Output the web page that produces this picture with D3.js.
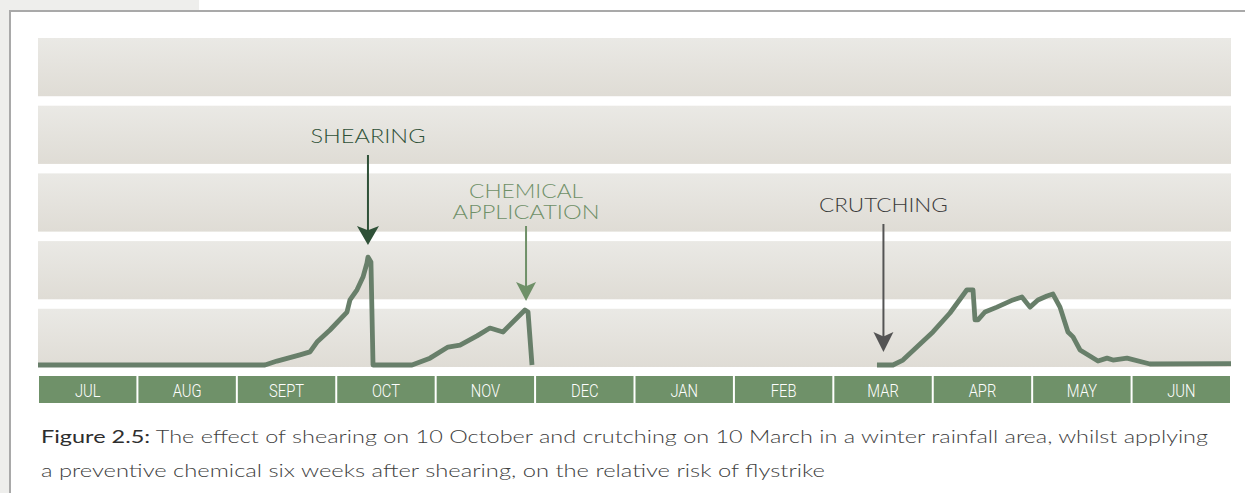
<!DOCTYPE html>
<html>
<head>
<meta charset="utf-8">
<script src="https://cdn.jsdelivr.net/npm/d3@7"></script>
<style>
  html, body { margin: 0; padding: 0; background: #ffffff; }
  svg { display: block; }
</style>
</head>
<body>
<svg id="chart" width="1245" height="493"></svg>
<script>
// ---- data ----
const months = ["JUL","AUG","SEPT","OCT","NOV","DEC","JAN","FEB","MAR","APR","MAY","JUN"];
// x = months since 1 July, y = relative flystrike risk
const riskShearingX = [0,2.283,2.404,2.515,2.635,2.736,2.806,2.937,3.108,3.138,3.209,3.269,3.309,3.319,3.349,3.370,3.762,3.943,4.124,4.245,4.416,4.546,4.677,4.898,4.929,4.969];
const riskShearingY = [0,0,1.2,2.1,3.1,4.0,7.0,10.7,16.2,19.9,23.0,26.9,31.2,33.0,31.5,0,0,2.1,5.5,6.1,8.9,11.3,10.1,16.8,16.2,0];
const riskCrutchX = [8.439,8.600,8.700,9.002,9.173,9.344,9.405,9.425,9.455,9.525,9.646,9.807,9.897,9.978,10.058,10.149,10.209,10.280,10.360,10.411,10.481,10.662,10.753,10.813,10.954,11.185,12];
const riskCrutchY = [0,0,1.5,10.1,15.9,23.0,23.0,13.8,13.8,16.2,17.7,19.9,20.8,17.7,19.9,21.1,21.7,17.7,10.1,8.6,4.6,1.2,2.1,1.5,2.1,0.3,0.4];
const eventLabels = [["SHEARING"],["CHEMICAL","APPLICATION"],["CRUTCHING"]];
const eventX = [3.319, 4.909, 8.504];
const bandCount = 5;
const captionBold = "Figure 2.5:";
const captionLine1 = " The effect of shearing on 10 October and crutching on 10 March in a winter rainfall area, whilst applying";
const captionLine2 = "a preventive chemical six weeks after shearing, on the relative risk of flystrike";

// ---- drawing ----
const svg = d3.select("#chart");
const W = 1245, H = 493;

// outer frame
svg.append("rect").attr("x",0).attr("y",0).attr("width",9).attr("height",H).attr("fill","#eeeeec");
svg.append("rect").attr("x",0).attr("y",0).attr("width",199).attr("height",10).attr("fill","#eeeeec");
svg.append("line").attr("x1",9).attr("x2",W).attr("y1",11).attr("y2",11).attr("stroke","#a9a9a9").attr("stroke-width",2);
svg.append("line").attr("x1",10).attr("x2",10).attr("y1",10).attr("y2",H).attr("stroke","#a9a9a9").attr("stroke-width",2);

const defs = svg.append("defs");
const grad = defs.append("linearGradient").attr("id","bandGrad").attr("x1",0).attr("x2",0).attr("y1",0).attr("y2",1);
grad.append("stop").attr("offset","0%").attr("stop-color","#eae9e5");
grad.append("stop").attr("offset","100%").attr("stop-color","#dfdcd5");

const left = 38, right = 1231;
const x = d3.scaleLinear().domain([0,12]).range([left,right]);
const y = d3.scaleLinear().domain([0,100]).range([365,38]);

const bands = d3.scaleBand().domain(d3.range(bandCount)).range([38,367]).paddingInner(0.14);
svg.append("g").selectAll("rect").data(d3.range(bandCount)).join("rect")
  .attr("x",left).attr("width",right-left)
  .attr("y",d=>bands(d)).attr("height",bands.bandwidth())
  .attr("fill","url(#bandGrad)");

// month bar
const mx = d3.scaleBand().domain(months).range([left,right]);
const mg = svg.append("g");
mg.selectAll("rect").data(months).join("rect")
  .attr("x",d=>mx(d)+1).attr("width",mx.bandwidth()-2)
  .attr("y",376).attr("height",27).attr("fill","#6f9169");
mg.selectAll("text").data(months).join("text")
  .attr("transform",d=>`translate(${mx(d)+mx.bandwidth()/2},397) scale(0.82,1)`)
  .attr("text-anchor","middle")
  .attr("font-family","Roboto, sans-serif").attr("font-weight",300)
  .attr("font-size",18).attr("fill","#ffffff")
  .text(d=>d);

// risk lines
const line = d3.line().x(d=>x(d[0])).y(d=>y(d[1]));
const seg1 = riskShearingX.map((v,i)=>[v,riskShearingY[i]]);
const seg2 = riskCrutchX.map((v,i)=>[v,riskCrutchY[i]]);
svg.append("g").selectAll("path").data([seg1,seg2]).join("path")
  .attr("d",line).attr("fill","none")
  .attr("stroke","#687f6a").attr("stroke-width",4.8)
  .attr("stroke-linejoin","round").attr("stroke-linecap","butt");

// annotations
const annColors = ["#2f5138","#6f9068","#545454"];
const textColors = ["#2f5138","#6f9068","#3a3a3a"];
const lineTop = [155,226,224];
const tipY = [245,301,352];
const headH = [19,19,20];
const headW = [22,20,20];
const labelBase = [[143],[198,219],[212]];
const labelLen = [[115],[114,147],[129]];
eventX.forEach((ev,i)=>{
  const cx = x(ev);
  const g = svg.append("g");
  g.append("line").attr("x1",cx).attr("x2",cx).attr("y1",lineTop[i]).attr("y2",tipY[i]-headH[i]+5)
    .attr("stroke",annColors[i]).attr("stroke-width",2);
  const p = d3.path();
  p.moveTo(cx-headW[i]/2, tipY[i]-headH[i]);
  p.lineTo(cx, tipY[i]-headH[i]*0.78);
  p.lineTo(cx+headW[i]/2, tipY[i]-headH[i]);
  p.lineTo(cx, tipY[i]);
  p.closePath();
  g.append("path").attr("d",p.toString()).attr("fill",annColors[i]);
  eventLabels[i].forEach((t,j)=>{
    g.append("text").attr("x",cx).attr("y",labelBase[i][j])
      .attr("text-anchor","middle")
      .attr("font-family","Lato, sans-serif").attr("font-weight",300).attr("font-size",19)
      .attr("fill",textColors[i])
      .attr("textLength",labelLen[i][j]).attr("lengthAdjust","spacingAndGlyphs")
      .text(t);
  });
});

// caption
const cap = svg.append("text").attr("x",41).attr("y",443)
  .attr("font-family","Lato, sans-serif").attr("font-weight",300).attr("font-size",18).attr("fill","#3e3e3e")
  .attr("textLength",1167).attr("lengthAdjust","spacingAndGlyphs");
cap.append("tspan").attr("font-weight",400).attr("fill","#2e2e2e").text(captionBold);
cap.append("tspan").text(captionLine1);
svg.append("text").attr("x",41).attr("y",477)
  .attr("font-family","Lato, sans-serif").attr("font-weight",300).attr("font-size",18).attr("fill","#3e3e3e")
  .attr("textLength",784).attr("lengthAdjust","spacingAndGlyphs")
  .text(captionLine2);
</script>
</body>
</html>
